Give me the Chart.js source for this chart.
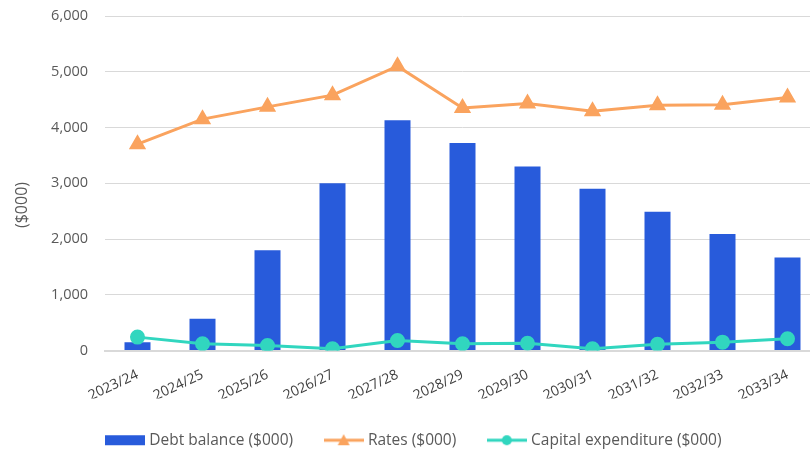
<!DOCTYPE html>
<html>
<head>
<meta charset="utf-8">
<script src="https://cdn.jsdelivr.net/npm/chart.js@4.4.1/dist/chart.umd.min.js"></script>
<style>
  html, body { margin: 0; padding: 0; background: #ffffff; overflow: hidden; }
  #wrap { width: 810px; height: 452px; overflow: hidden; position: relative; }
  #chart { position: absolute; left: 0; top: 0; }
</style>
</head>
<body>
<div id="wrap"><canvas id="chart" width="830" height="458"></canvas></div>
<script>
// Financial years
const years = ['2023/24', '2024/25', '2025/26', '2026/27', '2027/28', '2028/29',
               '2029/30', '2030/31', '2031/32', '2032/33', '2033/34'];

// Values in $000
const debtBalance = [150, 570, 1800, 3000, 4130, 3720, 3300, 2900, 2490, 2090, 1670];
const rates       = [3700, 4150, 4370, 4580, 5100, 4350, 4430, 4290, 4400, 4410, 4540];
const capex       = [240, 120, 90, 30, 180, 120, 130, 30, 110, 150, 210];

// Y axis tick values
const yTicks = [0, 1000, 2000, 3000, 4000, 5000, 6000];

const BLUE = '#285BDB';
const ORANGE = '#FAA35E';
const TEAL = '#31D6BF';
const TEXT = '#595959';
const FONT = "'Open Sans', 'Noto Sans', sans-serif";

// Small legend symbols: bar swatch, line with triangle, line with circle
function swatch(kind) {
  const c = document.createElement('canvas');
  c.width = 40; c.height = 14;
  const g = c.getContext('2d');
  if (kind === 'bar') {
    g.fillStyle = BLUE;
    g.fillRect(0, 2, 40, 10);
  } else if (kind === 'tri') {
    g.strokeStyle = ORANGE; g.lineWidth = 3;
    g.beginPath(); g.moveTo(0, 7); g.lineTo(40, 7); g.stroke();
    g.fillStyle = ORANGE;
    g.beginPath(); g.moveTo(20, 1); g.lineTo(26, 12); g.lineTo(14, 12); g.closePath(); g.fill();
  } else {
    g.strokeStyle = TEAL; g.lineWidth = 3;
    g.beginPath(); g.moveTo(0, 7); g.lineTo(40, 7); g.stroke();
    g.fillStyle = TEAL;
    g.beginPath(); g.arc(20, 7, 5, 0, Math.PI * 2); g.fill();
  }
  return c;
}
const legendSymbols = [swatch('bar'), swatch('tri'), swatch('circ')];

// Vertical axis caption
const yCaption = {
  id: 'yCaption',
  afterDraw(chart) {
    const ctx = chart.ctx;
    ctx.save();
    ctx.translate(22, 205);
    ctx.rotate(-Math.PI / 2);
    ctx.font = "16px " + FONT;
    ctx.fillStyle = TEXT;
    ctx.textAlign = 'center';
    ctx.textBaseline = 'middle';
    ctx.fillText('($000)', 0, 0);
    ctx.restore();
  }
};

new Chart(document.getElementById('chart'), {
  data: {
    labels: years,
    datasets: [
      {
        type: 'line',
        label: 'Capital expenditure ($000)',
        data: capex,
        borderColor: TEAL,
        backgroundColor: TEAL,
        borderWidth: 3,
        pointStyle: 'circle',
        pointRadius: 6,
        pointHoverRadius: 6,
        order: 1
      },
      {
        type: 'line',
        label: 'Rates ($000)',
        data: rates,
        borderColor: ORANGE,
        backgroundColor: ORANGE,
        borderWidth: 3,
        pointStyle: 'triangle',
        pointRadius: 7,
        pointHoverRadius: 7,
        order: 2
      },
      {
        type: 'bar',
        label: 'Debt balance ($000)',
        data: debtBalance,
        backgroundColor: BLUE,
        barPercentage: 0.8,
        categoryPercentage: 0.5,
        order: 3
      }
    ]
  },
  options: {
    responsive: false,
    animation: false,
    layout: { padding: 0 },
    plugins: {
      tooltip: { enabled: false },
      legend: {
        position: 'bottom',
        labels: {
          usePointStyle: true,
          pointStyleWidth: 33,
          padding: 34,
          color: TEXT,
          font: { family: FONT, size: 15.5 },
          generateLabels(chart) {
            const order = [2, 1, 0];
            return order.map((di, i) => ({
              text: chart.data.datasets[di].label,
              pointStyle: legendSymbols[i],
              fillStyle: 'transparent',
              strokeStyle: 'transparent',
              lineWidth: 0,
              fontColor: TEXT,
              datasetIndex: di,
              hidden: false
            }));
          }
        }
      }
    },
    scales: {
      x: {
        grid: { display: false, drawTicks: false },
        border: { display: true, color: '#d9d9d9', width: 2 },
        ticks: {
          color: '#404040',
          font: { family: FONT, size: 14 },
          minRotation: 25,
          maxRotation: 25,
          padding: 16
        },
        afterFit(scale) {
          scale.height = 48;
        }
      },
      y: {
        min: 0,
        max: 6000,
        afterBuildTicks(scale) { scale.ticks = yTicks.map(v => ({ value: v })); },
        grid: { color: '#d9d9d9', lineWidth: 1, drawTicks: false },
        border: { display: false },
        ticks: {
          color: TEXT,
          font: { family: FONT, size: 14.5 },
          padding: 17,
          callback: v => v.toLocaleString('en-US')
        },
        afterFit(scale) {
          scale.width = 105;
          scale.paddingTop = 16;
          scale.paddingBottom = 0;
        }
      }
    }
  },
  plugins: [yCaption]
});
</script>
</body>
</html>
